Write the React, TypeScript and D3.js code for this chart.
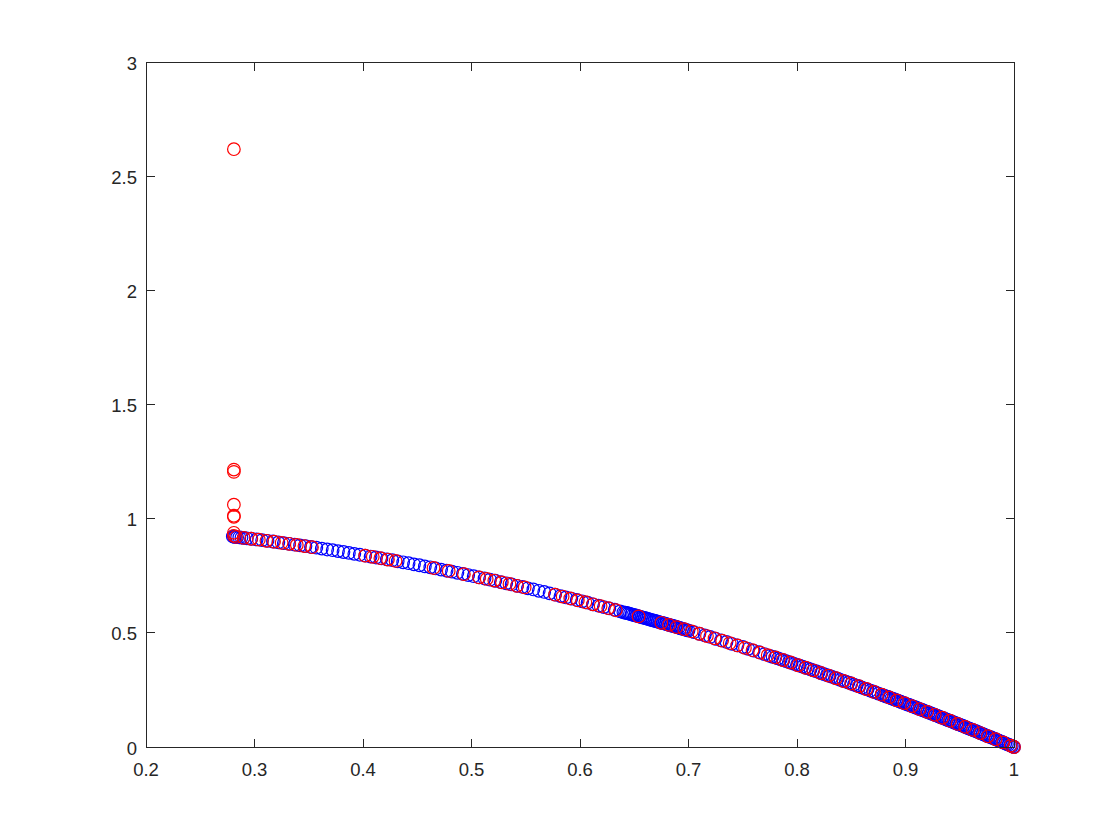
import React from "react";
import * as d3 from "d3";

const xTicks = [0.2, 0.3, 0.4, 0.5, 0.6, 0.7, 0.8, 0.9, 1];
const yTicks = [0, 0.5, 1, 1.5, 2, 2.5, 3];

const blueSeries: [number, number][] = [
  [0.280, 0.922], [0.281, 0.921], [0.282, 0.920], [0.284, 0.919], [0.286, 0.918], [0.288, 0.917], [0.290, 0.916], [0.293, 0.914],
  [0.297, 0.912], [0.302, 0.909], [0.307, 0.906], [0.312, 0.903], [0.317, 0.900], [0.322, 0.896], [0.327, 0.893], [0.332, 0.890],
  [0.337, 0.886], [0.342, 0.883], [0.347, 0.880], [0.352, 0.876], [0.357, 0.873], [0.362, 0.869], [0.367, 0.865], [0.372, 0.862],
  [0.377, 0.858], [0.382, 0.854], [0.387, 0.850], [0.392, 0.846], [0.397, 0.842], [0.402, 0.838], [0.407, 0.834], [0.412, 0.830],
  [0.417, 0.826], [0.422, 0.822], [0.427, 0.818], [0.432, 0.813], [0.437, 0.809], [0.442, 0.805], [0.447, 0.800], [0.452, 0.796],
  [0.457, 0.791], [0.462, 0.787], [0.467, 0.782], [0.472, 0.777], [0.477, 0.772], [0.482, 0.768], [0.487, 0.763], [0.492, 0.758],
  [0.497, 0.753], [0.502, 0.748], [0.507, 0.743], [0.512, 0.738], [0.517, 0.733], [0.522, 0.728], [0.527, 0.722], [0.532, 0.717],
  [0.537, 0.712], [0.542, 0.706], [0.547, 0.701], [0.552, 0.695], [0.557, 0.690], [0.562, 0.684], [0.567, 0.679], [0.572, 0.673],
  [0.577, 0.667], [0.582, 0.661], [0.587, 0.655], [0.592, 0.650], [0.597, 0.644], [0.602, 0.638], [0.607, 0.632], [0.612, 0.625],
  [0.617, 0.619], [0.622, 0.613], [0.627, 0.607], [0.632, 0.601], [0.637, 0.594],
  [0.640, 0.590], [0.643, 0.587], [0.646, 0.583], [0.649, 0.579], [0.652, 0.575], [0.655, 0.571], [0.658, 0.567], [0.661, 0.563],
  [0.664, 0.559], [0.667, 0.555], [0.670, 0.551], [0.673, 0.547], [0.676, 0.543], [0.679, 0.539], [0.682, 0.535], [0.685, 0.531],
  [0.688, 0.527], [0.691, 0.523], [0.694, 0.518], [0.697, 0.514], [0.700, 0.510],
  [0.705, 0.503], [0.710, 0.496], [0.715, 0.489], [0.720, 0.482], [0.725, 0.474], [0.730, 0.467], [0.735, 0.460], [0.740, 0.452],
  [0.745, 0.445], [0.750, 0.438], [0.755, 0.430], [0.760, 0.422], [0.765, 0.415], [0.770, 0.407], [0.775, 0.399], [0.780, 0.392],
  [0.785, 0.384], [0.790, 0.376], [0.795, 0.368], [0.800, 0.360], [0.805, 0.352], [0.810, 0.344], [0.815, 0.336], [0.820, 0.328],
  [0.825, 0.319], [0.830, 0.311], [0.835, 0.303], [0.840, 0.294], [0.845, 0.286], [0.850, 0.278], [0.855, 0.269], [0.860, 0.260],
  [0.865, 0.252], [0.870, 0.243], [0.875, 0.234],
  [0.878, 0.229], [0.881, 0.224], [0.884, 0.219], [0.887, 0.213], [0.890, 0.208], [0.893, 0.203], [0.896, 0.197], [0.899, 0.192],
  [0.902, 0.186], [0.905, 0.181], [0.908, 0.176], [0.911, 0.170], [0.914, 0.165], [0.917, 0.159], [0.920, 0.154], [0.923, 0.148],
  [0.926, 0.143], [0.929, 0.137], [0.932, 0.131], [0.935, 0.126], [0.938, 0.120], [0.941, 0.115], [0.944, 0.109], [0.947, 0.103],
  [0.950, 0.098], [0.953, 0.092], [0.956, 0.086], [0.959, 0.080], [0.962, 0.075], [0.965, 0.069], [0.968, 0.063], [0.971, 0.057],
  [0.974, 0.051], [0.977, 0.045], [0.980, 0.040], [0.983, 0.034], [0.986, 0.028], [0.989, 0.022], [0.992, 0.016], [0.995, 0.010],
  [0.998, 0.004], [1.000, 0.000],
];

const blueDense: [number, number][] = [
  [0.6415, 0.588], [0.6445, 0.585], [0.6475, 0.581], [0.6505, 0.577], [0.6535, 0.573], [0.6565, 0.569], [0.6595, 0.565],
  [0.6625, 0.561], [0.6655, 0.557], [0.6685, 0.553], [0.6715, 0.549], [0.6745, 0.545], [0.6775, 0.541], [0.6805, 0.537],
  [0.6835, 0.533], [0.6865, 0.529], [0.6895, 0.525], [0.6925, 0.520], [0.6955, 0.516], [0.6985, 0.512],
  [0.7775, 0.395], [0.7825, 0.388], [0.7875, 0.380], [0.7925, 0.372], [0.7975, 0.364], [0.8025, 0.356], [0.8075, 0.348],
  [0.8125, 0.340], [0.8175, 0.332], [0.8225, 0.323], [0.8275, 0.315], [0.8325, 0.307], [0.8375, 0.299], [0.8425, 0.290],
  [0.8475, 0.282], [0.8525, 0.273], [0.8575, 0.265], [0.8625, 0.256], [0.8675, 0.247], [0.8725, 0.239],
  [0.8795, 0.226], [0.8825, 0.221], [0.8855, 0.216], [0.8885, 0.211], [0.8915, 0.205], [0.8945, 0.200], [0.8975, 0.194],
  [0.9005, 0.189], [0.9035, 0.184], [0.9065, 0.178], [0.9095, 0.173], [0.9125, 0.167], [0.9155, 0.162], [0.9185, 0.156],
  [0.9215, 0.151], [0.9245, 0.145], [0.9275, 0.140], [0.9305, 0.134], [0.9335, 0.129], [0.9365, 0.123], [0.9395, 0.117],
  [0.9425, 0.112], [0.9455, 0.106], [0.9485, 0.100], [0.9515, 0.095], [0.9545, 0.089], [0.9575, 0.083], [0.9605, 0.077],
  [0.9635, 0.072], [0.9665, 0.066], [0.9695, 0.060], [0.9725, 0.054], [0.9755, 0.048], [0.9785, 0.043], [0.9815, 0.037],
  [0.9845, 0.031], [0.9875, 0.025], [0.9905, 0.019], [0.9935, 0.013], [0.9965, 0.007], [0.9995, 0.001],
];

const redOutliers: [number, number][] = [
  [0.281, 2.618], [0.281, 1.215], [0.281, 1.205], [0.281, 1.061], [0.281, 1.013], [0.281, 1.008], [0.281, 0.938], [0.281, 0.925],
];

const redSeries: [number, number][] = [
  [0.283, 0.920], [0.290, 0.916], [0.297, 0.912], [0.304, 0.908], [0.311, 0.903], [0.318, 0.899], [0.325, 0.894], [0.332, 0.890],
  [0.339, 0.885], [0.346, 0.880], [0.353, 0.875], [0.402, 0.838], [0.409, 0.833], [0.416, 0.827], [0.423, 0.821], [0.430, 0.815],
  [0.465, 0.784], [0.479, 0.771], [0.493, 0.757],
  [0.507, 0.743], [0.514, 0.736], [0.521, 0.729], [0.528, 0.721], [0.535, 0.714], [0.542, 0.706], [0.549, 0.699],
  [0.577, 0.667], [0.584, 0.659], [0.591, 0.651], [0.598, 0.642], [0.605, 0.634], [0.612, 0.625],
  [0.619, 0.617], [0.626, 0.608], [0.633, 0.599], [0.654, 0.572], [0.675, 0.544], [0.682, 0.535], [0.689, 0.525], [0.696, 0.516],
  [0.703, 0.506], [0.710, 0.496], [0.717, 0.486], [0.724, 0.476], [0.731, 0.466], [0.738, 0.455], [0.745, 0.445], [0.752, 0.434],
  [0.759, 0.424], [0.766, 0.413], [0.773, 0.402], [0.780, 0.392], [0.787, 0.381], [0.794, 0.370], [0.801, 0.358], [0.808, 0.347],
  [0.815, 0.336], [0.822, 0.324], [0.829, 0.313], [0.836, 0.301], [0.843, 0.289], [0.850, 0.278], [0.857, 0.266], [0.864, 0.254],
  [0.871, 0.241], [0.878, 0.229], [0.885, 0.217], [0.892, 0.204], [0.899, 0.192], [0.906, 0.179], [0.913, 0.166], [0.920, 0.154],
  [0.927, 0.141], [0.934, 0.128], [0.941, 0.115], [0.948, 0.101], [0.955, 0.088], [0.962, 0.075], [0.969, 0.061], [0.976, 0.047],
  [0.983, 0.034], [0.990, 0.020], [0.997, 0.006], [1.000, 0.000],
];

const W = 1120;
const H = 840;
const left = 146;
const right = 1014;
const top = 62;
const bottom = 747;
const axisColor = "#262626";
const font = "'Liberation Sans', Arial, Helvetica, sans-serif";

export default function App() {
  const x = d3.scaleLinear().domain([0.2, 1]).range([left, right]);
  const y = d3.scaleLinear().domain([0, 3]).range([bottom, top]);
  const r = 6.3;
  const tickLen = 8.5;
  const sw = 1.2;
  const fmt = (v: number) => String(v);

  return (
    <svg width={W} height={H} style={{ position: "absolute", left: 0, top: 0, background: "#fff" }}>
      <rect x={0} y={0} width={W} height={H} fill="#ffffff" />
      <g fill="none" strokeWidth={sw}>
        {blueSeries.map((d, i) => (
          <circle key={"b" + i} cx={x(d[0])} cy={y(d[1])} r={r} stroke="#0000ff" />
        ))}
        {blueDense.map((d, i) => (
          <circle key={"bd" + i} cx={x(d[0])} cy={y(d[1])} r={r} stroke="#0000ff" />
        ))}
        {redSeries.map((d, i) => (
          <circle key={"r" + i} cx={x(d[0])} cy={y(d[1])} r={r} stroke="#ff0000" />
        ))}
        {redOutliers.map((d, i) => (
          <circle key={"o" + i} cx={x(d[0])} cy={y(d[1])} r={r} stroke="#ff0000" />
        ))}
      </g>
      <g stroke={axisColor} strokeWidth={1} fill="none" shapeRendering="crispEdges">
        <rect x={left} y={top} width={right - left} height={bottom - top} />
        {xTicks.map((t) => (
          <g key={"xt" + t}>
            <line x1={x(t)} x2={x(t)} y1={bottom} y2={bottom - tickLen} />
            <line x1={x(t)} x2={x(t)} y1={top} y2={top + tickLen} />
          </g>
        ))}
        {yTicks.map((t) => (
          <g key={"yt" + t}>
            <line x1={left} x2={left + tickLen} y1={y(t)} y2={y(t)} />
            <line x1={right} x2={right - tickLen} y1={y(t)} y2={y(t)} />
          </g>
        ))}
      </g>
      <g fill={axisColor} fontFamily={font} fontSize={18.5}>
        {xTicks.map((t) => (
          <text key={"xl" + t} x={x(t)} y={bottom + 29} textAnchor="middle">
            {fmt(t)}
          </text>
        ))}
        {yTicks.map((t) => (
          <text key={"yl" + t} x={left - 9} y={y(t) + 7.5} textAnchor="end">
            {fmt(t)}
          </text>
        ))}
      </g>
    </svg>
  );
}
